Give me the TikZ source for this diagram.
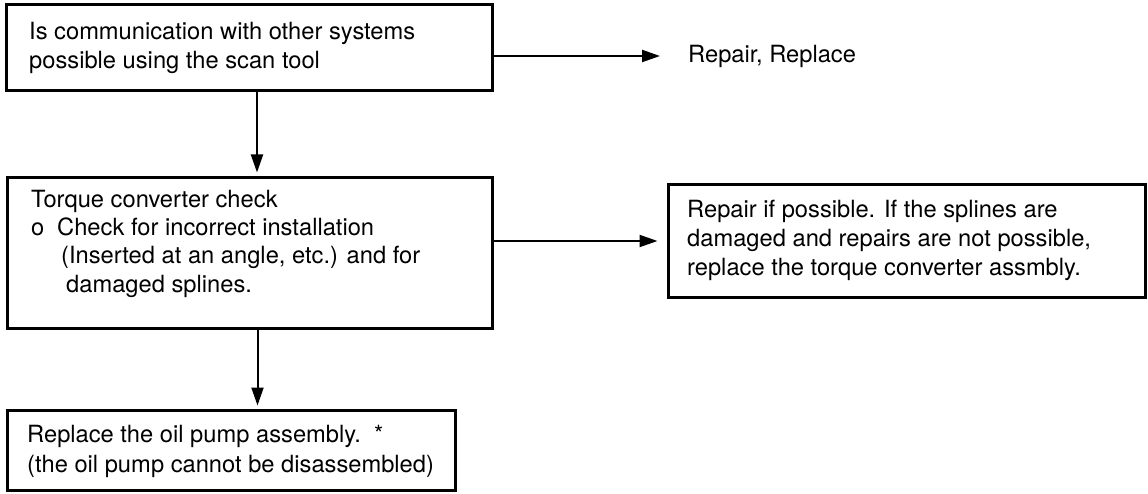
\documentclass[tikz,border=0pt]{standalone}
\usepackage{fontspec}
\setmainfont{TeX Gyre Heros}
\usetikzlibrary{arrows.meta}
\begin{document}
\begin{tikzpicture}[x=1pt,y=-1pt,
  box/.style={draw, line width=3pt, inner sep=0pt},
  txt/.style={anchor=base west, inner sep=0pt, font=\fontsize{23.7}{29}\selectfont},
  arr/.style={line width=2pt, -{Triangle[length=18pt,width=12pt]}}]
\useasboundingbox (0,0) rectangle (1148,494);

% boxes
\node[box, minimum width=486pt, minimum height=86pt]  (b1) at (249,48)    {};
\node[box, minimum width=485pt, minimum height=150pt] (b2) at (249.5,253) {};
\node[box, minimum width=477pt, minimum height=112pt] (b3) at (906.5,241) {};
\node[box, minimum width=448pt, minimum height=80pt]  (b4) at (231,450)   {};

% box texts
\node[txt] (t1a) at (29,40) {Is communication with other systems};
\node[txt] (t1b) at (29,69) {possible using the scan tool};

\node[txt] (t2a) at (31,208) {Torque converter check};
\node[txt] (t2b) at (31,236) {o};
\node[txt] (t2c) at (57,236) {Check for incorrect installation};
\node[txt] (t2d) at (61,264) {(Inserted at an angle, etc.) and for};
\node[txt] (t2e) at (66,292) {damaged splines.};

\node[txt] (t3a) at (687,218) {Repair if possible. If the splines are};
\node[txt] (t3b) at (687,247) {damaged and repairs are not possible,};
\node[txt] (t3c) at (687,276) {replace the torque converter assmbly.};

\node[txt] (t4a) at (27,442) {Replace the oil pump assembly.\ \ *};
\node[txt] (t4b) at (27,472) {(the oil pump cannot be disassembled)};

% outcome without a box
\node[anchor=west, inner sep=0pt, font=\fontsize{23.7}{29}\selectfont] (rr) at (688,56) {Repair, Replace};
\coordinate (a1s) at (b1.east |- rr.west);

% connectors
\draw[arr, shorten >=28pt] (a1s) -- (rr.west);
\draw[arr, shorten >=4pt] ([xshift=8pt]b1.south) -- ([xshift=8pt]b1.south |- b2.north);
\draw[arr, shorten >=9pt] (b2.east |- b3.west) -- (b3.west);
\draw[arr, shorten >=3pt] ([xshift=8pt]b2.south) -- ([xshift=8pt]b2.south |- b4.north);
\end{tikzpicture}
\end{document}
